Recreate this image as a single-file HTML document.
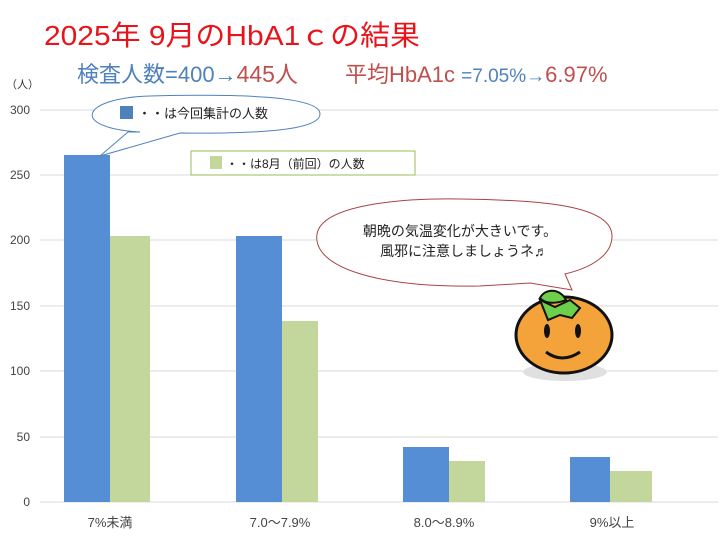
<!DOCTYPE html>
<html><head><meta charset="utf-8"><style>
body{margin:0;width:720px;height:540px;background:#fff;overflow:hidden;font-family:"Liberation Sans","Noto Sans CJK JP",sans-serif}
</style></head><body>
<svg width="720" height="540" viewBox="0 0 720 540" xmlns="http://www.w3.org/2000/svg" font-family="Liberation Sans, Noto Sans CJK JP, sans-serif">
<text x="44" y="45" font-size="28" fill="#e8141b" textLength="376" lengthAdjust="spacingAndGlyphs">2025年 9月のHbA1ｃの結果</text>
<text x="77" y="82" font-size="22" fill="#4f81bd">検査人数=400→<tspan fill="#c0504d" font-size="23">445人</tspan></text>
<text x="345" y="82" font-size="22" fill="#c0504d">平均HbA1c <tspan fill="#4f81bd" font-size="19">=7.05%→</tspan><tspan fill="#c0504d" font-size="22">6.97%</tspan></text>
<text x="6" y="88" font-size="11" fill="#333">（人）</text>
<g stroke="#d9d9d9" stroke-width="1">
<line x1="40" x2="718" y1="110" y2="110"/><line x1="40" x2="718" y1="175" y2="175"/><line x1="40" x2="718" y1="240" y2="240"/><line x1="40" x2="718" y1="306" y2="306"/><line x1="40" x2="718" y1="371" y2="371"/><line x1="40" x2="718" y1="437" y2="437"/><line x1="40" x2="718" y1="502" y2="502"/>
</g>
<g font-size="12" fill="#444" text-anchor="end">
<text x="30" y="114">300</text><text x="30" y="179">250</text><text x="30" y="244">200</text><text x="30" y="310">150</text><text x="30" y="375">100</text><text x="30" y="441">50</text><text x="30" y="506">0</text>
</g>
<g fill="#558ed5">
<rect x="64" y="155" width="46" height="347"/><rect x="236" y="236" width="46" height="266"/><rect x="403" y="447" width="46" height="55"/><rect x="570" y="457" width="40" height="45"/>
</g>
<g fill="#c3d69b">
<rect x="110" y="236" width="40" height="266"/><rect x="282" y="321" width="36" height="181"/><rect x="449" y="461" width="36" height="41"/><rect x="610" y="471" width="42" height="31"/>
</g>
<g font-size="13" fill="#444" text-anchor="middle">
<text x="110" y="527">7%未満</text><text x="280" y="527">7.0～7.9%</text><text x="444" y="527">8.0～8.9%</text><text x="612" y="527">9%以上</text>
</g>
<path d="M140,132 C70,128 80,98 150,96 C230,94 320,95 320,114 C320,130 260,134 180,133 L100,156 L128,132 Z" fill="#fff" stroke="#4f81bd" stroke-width="1"/>
<rect x="120" y="106" width="13" height="13" fill="#4f81bd"/>
<text x="138" y="118" font-size="13" fill="#222">・・は今回集計の人数</text>
<rect x="191" y="151" width="224" height="24" fill="#fff" stroke="#9bbb59"/>
<rect x="210" y="156" width="12" height="13" fill="#c3d69b"/>
<text x="226" y="168" font-size="12" fill="#222">・・は8月（前回）の人数</text>
<path d="M480,286 C380,288 312,268 317,234 C322,205 400,198 460,199 C540,200 612,205 612,236 C612,256 590,268 565,274 L572,290 L530,283 Z" fill="#fff" stroke="#a94442" stroke-width="1"/>
<text x="460" y="236" font-size="14" fill="#222" text-anchor="middle">朝晩の気温変化が大きいです。</text>
<text x="464" y="256" font-size="14" fill="#222" text-anchor="middle">風邪に注意しましょうネ♬</text>
<ellipse cx="565" cy="372" rx="42" ry="9" fill="#e0e0e0"/>
<ellipse cx="564" cy="335" rx="48" ry="38" fill="#f4a23a" stroke="#111" stroke-width="3"/>
<path d="M540,300 L555,307 L570,300 L580,308 L572,318 L560,315 L548,320 Z" fill="#6cd04a" stroke="#111" stroke-width="2"/>
<path d="M540,298 C545,288 560,288 566,300 C556,304 545,304 540,298 Z" fill="#6cd04a" stroke="#111" stroke-width="2"/>
<ellipse cx="547" cy="331" rx="3" ry="7" fill="#111"/><ellipse cx="578" cy="331" rx="3" ry="7" fill="#111"/>
<path d="M546,352 Q562,364 580,352" fill="none" stroke="#111" stroke-width="3"/>
</svg>
</body></html>
